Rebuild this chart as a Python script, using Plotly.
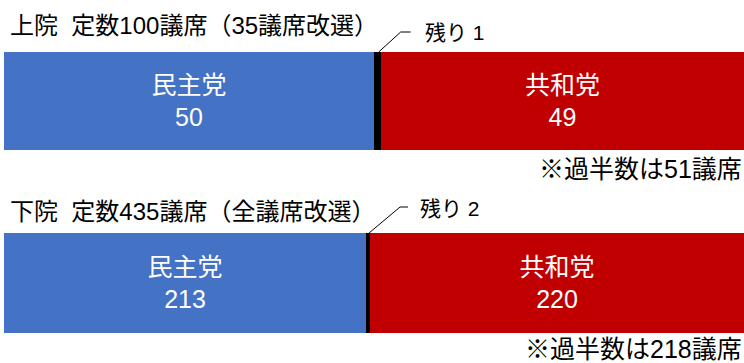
import plotly.graph_objects as go

# ---- data ----
parties = ["民主党", "残り", "共和党"]
senate_seats = [50, 1, 49]
house_seats = [213, 2, 220]
senate_total = 100
house_total = 435
senate_title = "上院\u00a0\u00a0定数100議席（35議席改選）"
house_title = "下院\u00a0\u00a0定数435議席（全議席改選）"
senate_note = "※過半数は51議席"
house_note = "※過半数は218議席"

# ---- style ----
colors = ["#4472C4", "#000000", "#C00000"]
FONT = "'Liberation Sans', Arial, 'Noto Sans CJK JP', sans-serif"
W, H = 744, 363

fig = go.Figure()

chambers = [
    (senate_seats, "x", "y"),
    (house_seats, "x2", "y2"),
]
for seats, xa, ya in chambers:
    for party, n, c in zip(parties, seats, colors):
        show_text = party != "残り"
        fig.add_trace(go.Bar(
            x=[n], y=[0], orientation="h", xaxis=xa, yaxis=ya,
            marker=dict(color=c, line=dict(width=0)),
            text=[f"{party}<br>{n}"] if show_text else None,
            textposition="inside" if show_text else "none",
            insidetextanchor="middle",
            textfont=dict(color="white", size=25, family=FONT),
            hoverinfo="skip",
        ))


def py(px_from_top):
    return 1 - px_from_top / H


TOP1, BOT1 = 52, 150
TOP2, BOT2 = 233, 333

fig.update_layout(
    width=W, height=H,
    margin=dict(l=0, r=0, t=0, b=0),
    paper_bgcolor="white", plot_bgcolor="white",
    barmode="stack", bargap=0, showlegend=False,
    font=dict(family=FONT, color="black"),
    xaxis=dict(domain=[4 / W, 1], range=[0, senate_total], visible=False, fixedrange=True, anchor="y"),
    yaxis=dict(domain=[py(BOT1), py(TOP1)], range=[-0.5, 0.5], visible=False, fixedrange=True, anchor="x"),
    xaxis2=dict(domain=[4 / W, 1], range=[0, house_total], visible=False, fixedrange=True, anchor="y2"),
    yaxis2=dict(domain=[py(BOT2), py(TOP2)], range=[-0.5, 0.5], visible=False, fixedrange=True, anchor="x2"),
)

annotations = [
    dict(text=senate_title, xref="paper", yref="paper", x=8 / W, y=py(25),
         xanchor="left", yanchor="middle", showarrow=False, font=dict(size=24)),
    dict(text=house_title, xref="paper", yref="paper", x=8 / W, y=py(211),
         xanchor="left", yanchor="middle", showarrow=False, font=dict(size=24)),
    dict(text=senate_note, xref="paper", yref="paper", x=1, y=py(169),
         xanchor="right", yanchor="middle", showarrow=False, font=dict(size=25)),
    dict(text=house_note, xref="paper", yref="paper", x=1, y=py(349),
         xanchor="right", yanchor="middle", showarrow=False, font=dict(size=25)),
]

shapes = []
leader = [
    (senate_seats, "x", "y", TOP1, 23, 20, 33, 45, 20),
    (house_seats, "x2", "y2", TOP2, 32, 26, 40, 50, 25),
]
for seats, xa, ya, top, dx, dy, dx2, tx, ty in leader:
    mid = seats[0] + seats[1] / 2
    shapes.append(dict(
        type="path", xref=xa, yref="paper", xsizemode="pixel", ysizemode="pixel",
        xanchor=mid, yanchor=py(top),
        path=f"M1,0 L{dx},{dy} L{dx2},{dy}",
        line=dict(color="black", width=1),
    ))
    annotations.append(dict(
        text=f"{parties[1]} {seats[1]}", xref=xa, yref=ya, x=mid, y=0.5,
        xshift=tx, yshift=ty, xanchor="left", yanchor="middle",
        showarrow=False, font=dict(size=21),
    ))

fig.update_layout(annotations=annotations, shapes=shapes)
fig.write_html("out.html")
